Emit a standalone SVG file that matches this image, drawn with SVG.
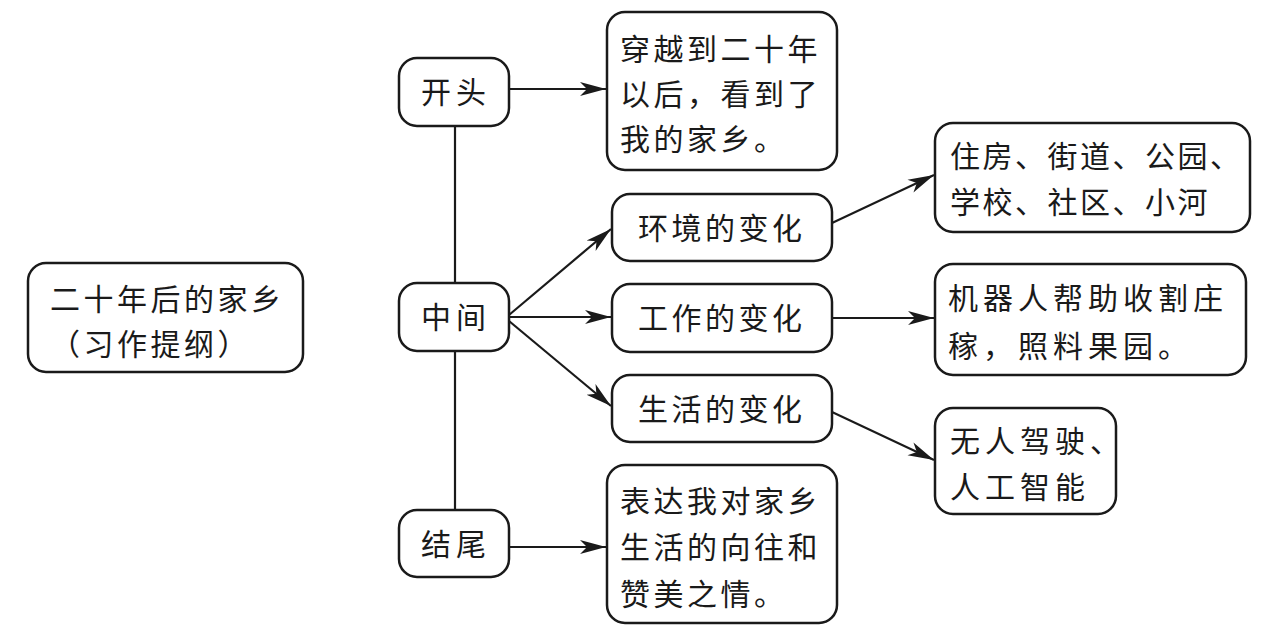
<svg xmlns="http://www.w3.org/2000/svg" width="1269" height="633" viewBox="0 0 1269 633">
<style>
.box{fill:#fff;stroke:#1a1a1a;stroke-width:2.5}
.t{font-family:"Noto Sans CJK SC","Noto Sans",sans-serif;font-size:30px;fill:#1a1a1a;letter-spacing:3.5px}
.w{letter-spacing:5px}
.c{fill:none;stroke:#1a1a1a;stroke-width:2.2}
</style>
<defs>
<marker id="ah" markerUnits="userSpaceOnUse" markerWidth="28" markerHeight="18" refX="26" refY="9" orient="auto">
<path d="M0,2 L26,9 L0,16 L7,9 Z" fill="#1a1a1a"/>
</marker>
</defs>
<rect width="1269" height="633" fill="#fff"/>
<g id="connectors">
<line class="c" x1="455" y1="126" x2="455" y2="283"/>
<line class="c" x1="455" y1="351" x2="455" y2="510"/>
<line class="c" x1="509" y1="89" x2="606" y2="89" marker-end="url(#ah)"/>
<line class="c" x1="509" y1="315" x2="611" y2="229" marker-end="url(#ah)"/>
<line class="c" x1="509" y1="317" x2="611" y2="317" marker-end="url(#ah)"/>
<line class="c" x1="509" y1="321" x2="611" y2="406" marker-end="url(#ah)"/>
<line class="c" x1="832" y1="223" x2="934" y2="175" marker-end="url(#ah)"/>
<line class="c" x1="832" y1="318" x2="934" y2="318" marker-end="url(#ah)"/>
<line class="c" x1="832" y1="412" x2="934" y2="460" marker-end="url(#ah)"/>
<line class="c" x1="509" y1="547" x2="606" y2="547" marker-end="url(#ah)"/>
</g>
<g id="title">
<rect class="box" x="28" y="263" width="275" height="109" rx="18"/>
<text class="t" x="50" y="310">二十年后的家乡</text>
<text class="t" x="50" y="355">（习作提纲）</text>
</g>
<g id="kaitou">
<rect class="box" x="399" y="58" width="110" height="68" rx="18"/>
<text class="t w" x="421" y="103">开头</text>
</g>
<g id="zhongjian">
<rect class="box" x="399" y="283" width="110" height="68" rx="18"/>
<text class="t w" x="421" y="328">中间</text>
</g>
<g id="jiewei">
<rect class="box" x="399" y="510" width="110" height="67" rx="18"/>
<text class="t w" x="421" y="555">结尾</text>
</g>
<g id="chuanyue">
<rect class="box" x="607" y="12" width="230" height="158" rx="18"/>
<text class="t" x="620" y="60">穿越到二十年</text>
<text class="t" x="620" y="105">以后，看到了</text>
<text class="t" x="620" y="150">我的家乡。</text>
</g>
<g id="huanjing">
<rect class="box" x="612" y="194" width="220" height="67" rx="18"/>
<text class="t" x="638" y="239">环境的变化</text>
</g>
<g id="gongzuo">
<rect class="box" x="612" y="284" width="220" height="68" rx="18"/>
<text class="t" x="638" y="329">工作的变化</text>
</g>
<g id="shenghuo">
<rect class="box" x="612" y="375" width="220" height="67" rx="18"/>
<text class="t" x="638" y="420">生活的变化</text>
</g>
<g id="zhufang">
<rect class="box" x="935" y="123" width="315" height="109" rx="18"/>
<text class="t" x="950" y="167" style="letter-spacing:2.5px">住房、街道、公园、</text>
<text class="t" x="950" y="213" style="letter-spacing:2.5px">学校、社区、小河</text>
</g>
<g id="jiqiren">
<rect class="box" x="935" y="264" width="311" height="111" rx="18"/>
<text class="t w" x="948" y="309">机器人帮助收割庄</text>
<text class="t w" x="948" y="357">稼，照料果园。</text>
</g>
<g id="wuren">
<rect class="box" x="935" y="408" width="181" height="106" rx="18"/>
<text class="t w" x="950" y="452">无人驾驶、</text>
<text class="t w" x="950" y="498">人工智能</text>
</g>
<g id="biaoda">
<rect class="box" x="607" y="465" width="230" height="158" rx="18"/>
<text class="t" x="620" y="512">表达我对家乡</text>
<text class="t" x="620" y="558">生活的向往和</text>
<text class="t" x="620" y="605">赞美之情。</text>
</g>
</svg>
